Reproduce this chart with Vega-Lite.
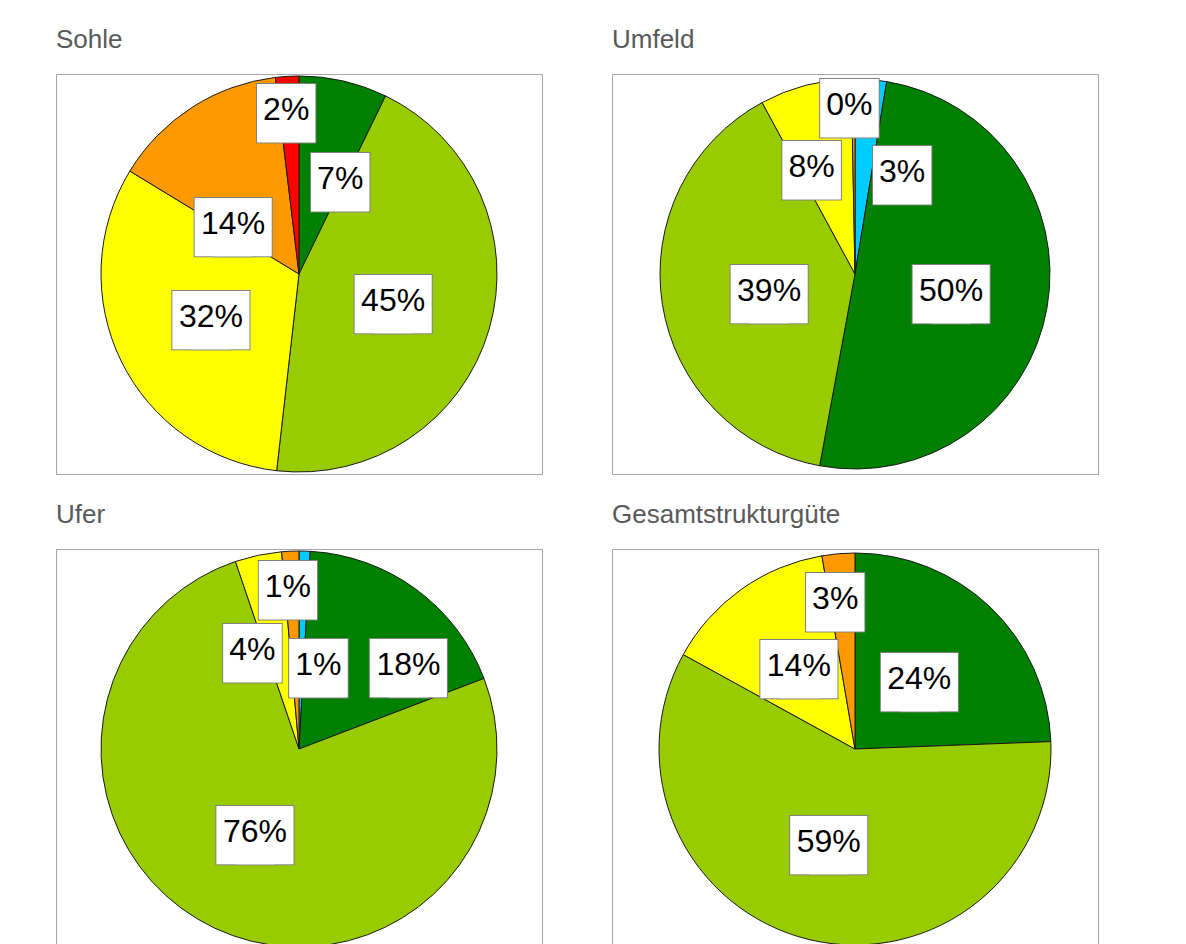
{
  "$schema": "https://vega.github.io/schema/vega-lite/v6.json",
  "padding": {"left": 55, "top": 26, "right": 0, "bottom": 0},
  "background": "white",
  "data": {"values": [
    {"bereich": "Sohle", "klasse": 3, "anteil": 0.072},
    {"bereich": "Sohle", "klasse": 4, "anteil": 0.446},
    {"bereich": "Sohle", "klasse": 5, "anteil": 0.319},
    {"bereich": "Sohle", "klasse": 6, "anteil": 0.144},
    {"bereich": "Sohle", "klasse": 7, "anteil": 0.019},
    {"bereich": "Umfeld", "klasse": 2, "anteil": 0.026},
    {"bereich": "Umfeld", "klasse": 3, "anteil": 0.503},
    {"bereich": "Umfeld", "klasse": 4, "anteil": 0.392},
    {"bereich": "Umfeld", "klasse": 5, "anteil": 0.076},
    {"bereich": "Umfeld", "klasse": 6, "anteil": 0.003},
    {"bereich": "Ufer", "klasse": 2, "anteil": 0.009},
    {"bereich": "Ufer", "klasse": 3, "anteil": 0.183},
    {"bereich": "Ufer", "klasse": 4, "anteil": 0.756},
    {"bereich": "Ufer", "klasse": 5, "anteil": 0.038},
    {"bereich": "Ufer", "klasse": 6, "anteil": 0.014},
    {"bereich": "Gesamtstrukturgüte", "klasse": 3, "anteil": 0.244},
    {"bereich": "Gesamtstrukturgüte", "klasse": 4, "anteil": 0.586},
    {"bereich": "Gesamtstrukturgüte", "klasse": 5, "anteil": 0.143},
    {"bereich": "Gesamtstrukturgüte", "klasse": 6, "anteil": 0.027}
  ]},
  "columns": 2,
  "bounds": "flush",
  "spacing": {"row": 75, "column": 70},
  "resolve": {"scale": {"theta": "independent", "color": "independent"}},
  "concat": [
    {
      "width": 486, "height": 400,
      "view": {"stroke": "#a6a6a6", "strokeWidth": 1},
      "title": "Sohle",
      "transform": [{"filter": "datum.bereich == 'Sohle'"}],
      "layer": [
        {"mark": {"type": "arc", "outerRadius": 198, "stroke": "#1a1a1a", "strokeWidth": 1},
         "encoding": {
           "theta": {"field": "anteil", "type": "quantitative", "stack": true, "scale": {"domain": [0, 1]}},
           "order": {"field": "klasse", "type": "quantitative"},
           "color": {"field": "klasse", "type": "nominal", "legend": null,
             "scale": {"domain": [2, 3, 4, 5, 6, 7], "range": ["#00CCFF", "#008000", "#99CC00", "#FFFF00", "#FF9900", "#FF0000"]}}}},
        {"encoding": {
           "theta": {"field": "anteil", "type": "quantitative", "stack": true, "scale": {"domain": [0, 1]}},
           "order": {"field": "klasse", "type": "quantitative"}},
         "layer": [
           {"mark": {"type": "text", "clip": true, "text": "■", "font": "DejaVu Sans", "fontSize": 76, "fill": "transparent", "stroke": "#808080", "strokeWidth": 2, "align": "center", "baseline": "middle",
             "radius": {"expr": "datum.klasse==3?103.5:datum.klasse==6?83:datum.klasse==7?164:98"},
             "dx": {"expr": "(datum.klasse==3?18:datum.klasse==6?-21:datum.klasse==7?-3:0)-(datum.anteil>=0.095?9.5:0)"},
             "dy": {"expr": "(datum.klasse==3?6:datum.klasse==6?20:0)"}}},
           {"mark": {"type": "text", "clip": true, "text": "■", "font": "DejaVu Sans", "fontSize": 76, "fill": "transparent", "stroke": "#808080", "strokeWidth": 2, "align": "center", "baseline": "middle",
             "radius": {"expr": "datum.klasse==3?103.5:datum.klasse==6?83:datum.klasse==7?164:98"},
             "dx": {"expr": "(datum.klasse==3?18:datum.klasse==6?-21:datum.klasse==7?-3:0)+(datum.anteil>=0.095?9.5:0)"},
             "dy": {"expr": "(datum.klasse==3?6:datum.klasse==6?20:0)"}}},
           {"mark": {"type": "text", "clip": true, "text": "■", "font": "DejaVu Sans", "fontSize": 76, "fill": "white", "align": "center", "baseline": "middle",
             "radius": {"expr": "datum.klasse==3?103.5:datum.klasse==6?83:datum.klasse==7?164:98"},
             "dx": {"expr": "(datum.klasse==3?18:datum.klasse==6?-21:datum.klasse==7?-3:0)-(datum.anteil>=0.095?9.5:0)"},
             "dy": {"expr": "(datum.klasse==3?6:datum.klasse==6?20:0)"}}},
           {"mark": {"type": "text", "clip": true, "text": "■", "font": "DejaVu Sans", "fontSize": 76, "fill": "white", "align": "center", "baseline": "middle",
             "radius": {"expr": "datum.klasse==3?103.5:datum.klasse==6?83:datum.klasse==7?164:98"},
             "dx": {"expr": "(datum.klasse==3?18:datum.klasse==6?-21:datum.klasse==7?-3:0)+(datum.anteil>=0.095?9.5:0)"},
             "dy": {"expr": "(datum.klasse==3?6:datum.klasse==6?20:0)"}}},
           {"mark": {"type": "text", "clip": true, "font": "Liberation Sans", "fontSize": 32, "fill": "#000000", "align": "center", "baseline": "middle",
             "radius": {"expr": "datum.klasse==3?103.5:datum.klasse==6?83:datum.klasse==7?164:98"},
             "dx": {"expr": "(datum.klasse==3?18:datum.klasse==6?-21:datum.klasse==7?-3:0)"},
             "dy": {"expr": "(datum.klasse==3?6:datum.klasse==6?20:0)"}},
            "encoding": {"text": {"field": "anteil", "type": "quantitative", "format": ".0%"}}}
         ]}
      ]
    },
    {
      "width": 486, "height": 400,
      "view": {"stroke": "#a6a6a6", "strokeWidth": 1},
      "title": "Umfeld",
      "transform": [{"filter": "datum.bereich == 'Umfeld'"}],
      "layer": [
        {"mark": {"type": "arc", "outerRadius": 195, "stroke": "#1a1a1a", "strokeWidth": 1},
         "encoding": {
           "theta": {"field": "anteil", "type": "quantitative", "stack": true, "scale": {"domain": [0, 1]}},
           "order": {"field": "klasse", "type": "quantitative"},
           "color": {"field": "klasse", "type": "nominal", "legend": null,
             "scale": {"domain": [2, 3, 4, 5, 6, 7], "range": ["#00CCFF", "#008000", "#99CC00", "#FFFF00", "#FF9900", "#FF0000"]}}}},
        {"encoding": {
           "theta": {"field": "anteil", "type": "quantitative", "stack": true, "scale": {"domain": [0, 1]}},
           "order": {"field": "klasse", "type": "quantitative"}},
         "layer": [
           {"mark": {"type": "text", "clip": true, "text": "■", "font": "DejaVu Sans", "fontSize": 76, "fill": "transparent", "stroke": "#808080", "strokeWidth": 2, "align": "center", "baseline": "middle",
             "radius": {"expr": "datum.klasse==2?112:datum.klasse==3?97.5:datum.klasse==4?88:datum.klasse==5?115:datum.klasse==6?169:100"},
             "dx": {"expr": "(datum.klasse==2?38:datum.klasse==4?1:datum.klasse==5?-14:datum.klasse==6?-4:0)-(datum.anteil>=0.095?9.5:0)"},
             "dy": {"expr": "(datum.klasse==2?10:datum.klasse==4?3:datum.klasse==5?4:0)"}}},
           {"mark": {"type": "text", "clip": true, "text": "■", "font": "DejaVu Sans", "fontSize": 76, "fill": "transparent", "stroke": "#808080", "strokeWidth": 2, "align": "center", "baseline": "middle",
             "radius": {"expr": "datum.klasse==2?112:datum.klasse==3?97.5:datum.klasse==4?88:datum.klasse==5?115:datum.klasse==6?169:100"},
             "dx": {"expr": "(datum.klasse==2?38:datum.klasse==4?1:datum.klasse==5?-14:datum.klasse==6?-4:0)+(datum.anteil>=0.095?9.5:0)"},
             "dy": {"expr": "(datum.klasse==2?10:datum.klasse==4?3:datum.klasse==5?4:0)"}}},
           {"mark": {"type": "text", "clip": true, "text": "■", "font": "DejaVu Sans", "fontSize": 76, "fill": "white", "align": "center", "baseline": "middle",
             "radius": {"expr": "datum.klasse==2?112:datum.klasse==3?97.5:datum.klasse==4?88:datum.klasse==5?115:datum.klasse==6?169:100"},
             "dx": {"expr": "(datum.klasse==2?38:datum.klasse==4?1:datum.klasse==5?-14:datum.klasse==6?-4:0)-(datum.anteil>=0.095?9.5:0)"},
             "dy": {"expr": "(datum.klasse==2?10:datum.klasse==4?3:datum.klasse==5?4:0)"}}},
           {"mark": {"type": "text", "clip": true, "text": "■", "font": "DejaVu Sans", "fontSize": 76, "fill": "white", "align": "center", "baseline": "middle",
             "radius": {"expr": "datum.klasse==2?112:datum.klasse==3?97.5:datum.klasse==4?88:datum.klasse==5?115:datum.klasse==6?169:100"},
             "dx": {"expr": "(datum.klasse==2?38:datum.klasse==4?1:datum.klasse==5?-14:datum.klasse==6?-4:0)+(datum.anteil>=0.095?9.5:0)"},
             "dy": {"expr": "(datum.klasse==2?10:datum.klasse==4?3:datum.klasse==5?4:0)"}}},
           {"mark": {"type": "text", "clip": true, "font": "Liberation Sans", "fontSize": 32, "fill": "#000000", "align": "center", "baseline": "middle",
             "radius": {"expr": "datum.klasse==2?112:datum.klasse==3?97.5:datum.klasse==4?88:datum.klasse==5?115:datum.klasse==6?169:100"},
             "dx": {"expr": "(datum.klasse==2?38:datum.klasse==4?1:datum.klasse==5?-14:datum.klasse==6?-4:0)"},
             "dy": {"expr": "(datum.klasse==2?10:datum.klasse==4?3:datum.klasse==5?4:0)"}},
            "encoding": {"text": {"field": "anteil", "type": "quantitative", "format": ".0%"}}}
         ]}
      ]
    },
    {
      "width": 486, "height": 400,
      "view": {"stroke": "#a6a6a6", "strokeWidth": 1},
      "title": "Ufer",
      "transform": [{"filter": "datum.bereich == 'Ufer'"}],
      "layer": [
        {"mark": {"type": "arc", "outerRadius": 198, "stroke": "#1a1a1a", "strokeWidth": 1},
         "encoding": {
           "theta": {"field": "anteil", "type": "quantitative", "stack": true, "scale": {"domain": [0, 1]}},
           "order": {"field": "klasse", "type": "quantitative"},
           "color": {"field": "klasse", "type": "nominal", "legend": null,
             "scale": {"domain": [2, 3, 4, 5, 6, 7], "range": ["#00CCFF", "#008000", "#99CC00", "#FFFF00", "#FF9900", "#FF0000"]}}}},
        {"encoding": {
           "theta": {"field": "anteil", "type": "quantitative", "stack": true, "scale": {"domain": [0, 1]}},
           "order": {"field": "klasse", "type": "quantitative"}},
         "layer": [
           {"mark": {"type": "text", "clip": true, "text": "■", "font": "DejaVu Sans", "fontSize": 76, "fill": "transparent", "stroke": "#808080", "strokeWidth": 2, "align": "center", "baseline": "middle",
             "radius": {"expr": "datum.klasse==2?86:datum.klasse==3?138:datum.klasse==4?94:datum.klasse==5?110:datum.klasse==6?162:100"},
             "dx": {"expr": "(datum.klasse==2?17:datum.klasse==3?28:datum.klasse==4?-4:datum.klasse==5?-24:datum.klasse==6?-4:0)-(datum.anteil>=0.095?9.5:0)"},
             "dy": {"expr": "(datum.klasse==2?2:datum.klasse==3?27:datum.klasse==4?-2:datum.klasse==5?9:0)"}}},
           {"mark": {"type": "text", "clip": true, "text": "■", "font": "DejaVu Sans", "fontSize": 76, "fill": "transparent", "stroke": "#808080", "strokeWidth": 2, "align": "center", "baseline": "middle",
             "radius": {"expr": "datum.klasse==2?86:datum.klasse==3?138:datum.klasse==4?94:datum.klasse==5?110:datum.klasse==6?162:100"},
             "dx": {"expr": "(datum.klasse==2?17:datum.klasse==3?28:datum.klasse==4?-4:datum.klasse==5?-24:datum.klasse==6?-4:0)+(datum.anteil>=0.095?9.5:0)"},
             "dy": {"expr": "(datum.klasse==2?2:datum.klasse==3?27:datum.klasse==4?-2:datum.klasse==5?9:0)"}}},
           {"mark": {"type": "text", "clip": true, "text": "■", "font": "DejaVu Sans", "fontSize": 76, "fill": "white", "align": "center", "baseline": "middle",
             "radius": {"expr": "datum.klasse==2?86:datum.klasse==3?138:datum.klasse==4?94:datum.klasse==5?110:datum.klasse==6?162:100"},
             "dx": {"expr": "(datum.klasse==2?17:datum.klasse==3?28:datum.klasse==4?-4:datum.klasse==5?-24:datum.klasse==6?-4:0)-(datum.anteil>=0.095?9.5:0)"},
             "dy": {"expr": "(datum.klasse==2?2:datum.klasse==3?27:datum.klasse==4?-2:datum.klasse==5?9:0)"}}},
           {"mark": {"type": "text", "clip": true, "text": "■", "font": "DejaVu Sans", "fontSize": 76, "fill": "white", "align": "center", "baseline": "middle",
             "radius": {"expr": "datum.klasse==2?86:datum.klasse==3?138:datum.klasse==4?94:datum.klasse==5?110:datum.klasse==6?162:100"},
             "dx": {"expr": "(datum.klasse==2?17:datum.klasse==3?28:datum.klasse==4?-4:datum.klasse==5?-24:datum.klasse==6?-4:0)+(datum.anteil>=0.095?9.5:0)"},
             "dy": {"expr": "(datum.klasse==2?2:datum.klasse==3?27:datum.klasse==4?-2:datum.klasse==5?9:0)"}}},
           {"mark": {"type": "text", "clip": true, "font": "Liberation Sans", "fontSize": 32, "fill": "#000000", "align": "center", "baseline": "middle",
             "radius": {"expr": "datum.klasse==2?86:datum.klasse==3?138:datum.klasse==4?94:datum.klasse==5?110:datum.klasse==6?162:100"},
             "dx": {"expr": "(datum.klasse==2?17:datum.klasse==3?28:datum.klasse==4?-4:datum.klasse==5?-24:datum.klasse==6?-4:0)"},
             "dy": {"expr": "(datum.klasse==2?2:datum.klasse==3?27:datum.klasse==4?-2:datum.klasse==5?9:0)"}},
            "encoding": {"text": {"field": "anteil", "type": "quantitative", "format": ".0%"}}}
         ]}
      ]
    },
    {
      "width": 486, "height": 400,
      "view": {"stroke": "#a6a6a6", "strokeWidth": 1},
      "title": "Gesamtstrukturgüte",
      "transform": [{"filter": "datum.bereich == 'Gesamtstrukturgüte'"}],
      "layer": [
        {"mark": {"type": "arc", "outerRadius": 196, "stroke": "#1a1a1a", "strokeWidth": 1},
         "encoding": {
           "theta": {"field": "anteil", "type": "quantitative", "stack": true, "scale": {"domain": [0, 1]}},
           "order": {"field": "klasse", "type": "quantitative"},
           "color": {"field": "klasse", "type": "nominal", "legend": null,
             "scale": {"domain": [2, 3, 4, 5, 6, 7], "range": ["#00CCFF", "#008000", "#99CC00", "#FFFF00", "#FF9900", "#FF0000"]}}}},
        {"encoding": {
           "theta": {"field": "anteil", "type": "quantitative", "stack": true, "scale": {"domain": [0, 1]}},
           "order": {"field": "klasse", "type": "quantitative"}},
         "layer": [
           {"mark": {"type": "text", "clip": true, "text": "■", "font": "DejaVu Sans", "fontSize": 76, "fill": "transparent", "stroke": "#808080", "strokeWidth": 2, "align": "center", "baseline": "middle",
             "radius": {"expr": "datum.klasse==5?102:datum.klasse==6?151:97"},
             "dx": {"expr": "(datum.klasse==3?-3:datum.klasse==5?3:datum.klasse==4?-4:datum.klasse==6?-7:0)-(datum.anteil>=0.095?9.5:0)"},
             "dy": {"expr": "(datum.klasse==4?-1:0)"}}},
           {"mark": {"type": "text", "clip": true, "text": "■", "font": "DejaVu Sans", "fontSize": 76, "fill": "transparent", "stroke": "#808080", "strokeWidth": 2, "align": "center", "baseline": "middle",
             "radius": {"expr": "datum.klasse==5?102:datum.klasse==6?151:97"},
             "dx": {"expr": "(datum.klasse==3?-3:datum.klasse==5?3:datum.klasse==4?-4:datum.klasse==6?-7:0)+(datum.anteil>=0.095?9.5:0)"},
             "dy": {"expr": "(datum.klasse==4?-1:0)"}}},
           {"mark": {"type": "text", "clip": true, "text": "■", "font": "DejaVu Sans", "fontSize": 76, "fill": "white", "align": "center", "baseline": "middle",
             "radius": {"expr": "datum.klasse==5?102:datum.klasse==6?151:97"},
             "dx": {"expr": "(datum.klasse==3?-3:datum.klasse==5?3:datum.klasse==4?-4:datum.klasse==6?-7:0)-(datum.anteil>=0.095?9.5:0)"},
             "dy": {"expr": "(datum.klasse==4?-1:0)"}}},
           {"mark": {"type": "text", "clip": true, "text": "■", "font": "DejaVu Sans", "fontSize": 76, "fill": "white", "align": "center", "baseline": "middle",
             "radius": {"expr": "datum.klasse==5?102:datum.klasse==6?151:97"},
             "dx": {"expr": "(datum.klasse==3?-3:datum.klasse==5?3:datum.klasse==4?-4:datum.klasse==6?-7:0)+(datum.anteil>=0.095?9.5:0)"},
             "dy": {"expr": "(datum.klasse==4?-1:0)"}}},
           {"mark": {"type": "text", "clip": true, "font": "Liberation Sans", "fontSize": 32, "fill": "#000000", "align": "center", "baseline": "middle",
             "radius": {"expr": "datum.klasse==5?102:datum.klasse==6?151:97"},
             "dx": {"expr": "(datum.klasse==3?-3:datum.klasse==5?3:datum.klasse==4?-4:datum.klasse==6?-7:0)"},
             "dy": {"expr": "(datum.klasse==4?-1:0)"}},
            "encoding": {"text": {"field": "anteil", "type": "quantitative", "format": ".0%"}}}
         ]}
      ]
    }
  ],
  "config": {
    "font": "Liberation Sans",
    "title": {"anchor": "start", "frame": "group", "font": "Liberation Sans", "fontSize": 26, "fontWeight": "normal", "color": "#595959", "baseline": "alphabetic", "offset": 21}
  }
}
